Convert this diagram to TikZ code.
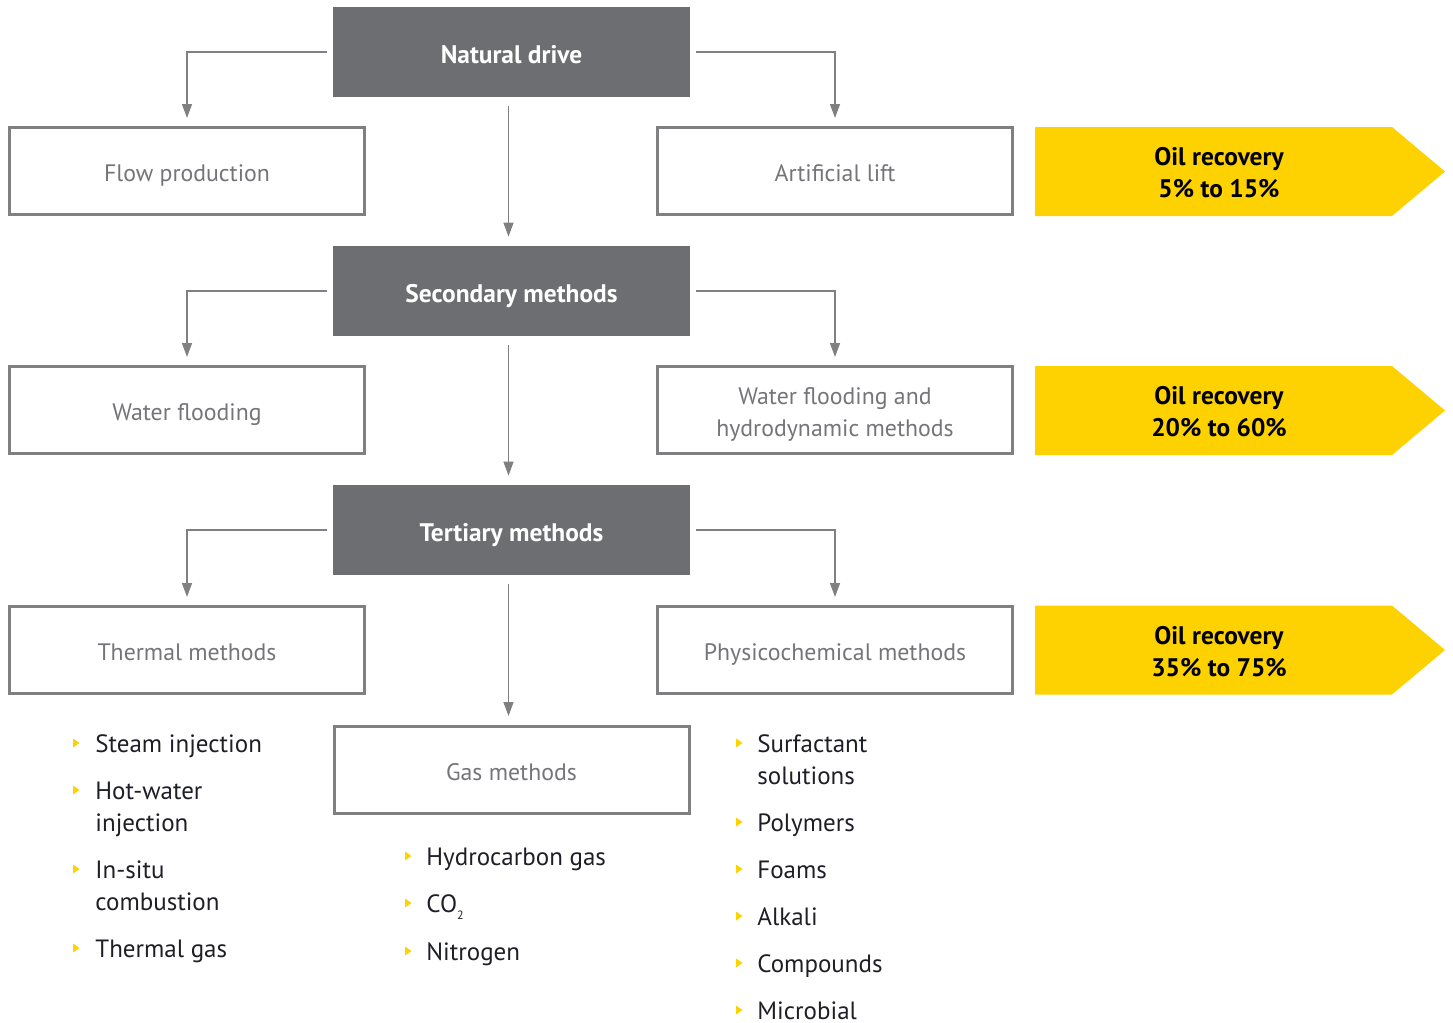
\documentclass[tikz,border=0pt]{standalone}
\usepackage{fontspec}
\setmainfont{PT Sans}
\usetikzlibrary{arrows.meta, positioning}
\definecolor{boxgray}{RGB}{109,110,113}
\definecolor{linegray}{RGB}{128,128,131}
\definecolor{boxtext}{RGB}{116,116,121}
\definecolor{itemtext}{RGB}{30,30,38}
\definecolor{recyellow}{RGB}{253,210,0}
\tikzset{
	darkbox/.style = {fill=boxgray, text=white, font=\bfseries\fontsize{12.7}{16}\selectfont,
		minimum width=178.5pt, minimum height=45pt, inner sep=0pt, text height=11pt, text depth=0pt},
	whitebox/.style = {draw=linegray, line width=1.5pt, text=boxtext, align=center,
		font=\fontsize{11.9}{16}\selectfont, minimum width=177.5pt, minimum height=43.5pt, inner sep=0pt,
		text height=10.5pt, text depth=0pt},
	twoline/.style = {text height=26pt, text depth=0pt},
	conn/.style = {draw=linegray, line width=0.7pt, -{Triangle[length=7pt, width=5pt]}},
	rectext/.style = {align=center, text=black, font=\bfseries\fontsize{12.7}{16}\selectfont, inner sep=0pt,
		twoline},
	item/.style = {anchor=base west, align=left, text=itemtext, font=\fontsize{12.5}{16}\selectfont, inner sep=0pt},
}
\newcommand{\bul}[2]{\fill[recyellow] (#1-3,#2-4.5) -- (#1+3.5,#2) -- (#1-3,#2+4.5) -- cycle;}

\begin{document}
\begin{tikzpicture}[x=0.5pt, y=-0.5pt]
	\useasboundingbox (0,0) rectangle (1453,1023);
	% main column
	\node[darkbox] (nd) at (511.5,52) {Natural drive};
	\node[darkbox] (sm) at (511.5,291) {Secondary methods};
	\node[darkbox] (tm) at (511.5,530) {Tertiary methods};
	% side boxes
	\node[whitebox] (fp) at (187,171) {Flow production};
	\node[whitebox] (al) at (835,171) {Artificial lift};
	\node[whitebox] (wf) at (187,410) {Water flooding};
	\node[whitebox, twoline] (wh) at (835,410) {Water flooding and\\hydrodynamic methods};
	\node[whitebox] (th) at (187,650) {Thermal methods};
	\node[whitebox] (pc) at (835,650) {Physicochemical methods};
	\node[whitebox] (gm) at (511.5,770) {Gas methods};
	% connectors
	\draw[conn] ([xshift=-3pt]nd.west) -| ([yshift=4pt]fp.north);
	\draw[conn] ([xshift=3pt]nd.east) -| ([yshift=4pt]al.north);
	\draw[conn] ([xshift=-1.5pt, yshift=-4.5pt]nd.south) -- ([xshift=-1.5pt, yshift=4.5pt]sm.north);
	\draw[conn] ([xshift=-3pt]sm.west) -| ([yshift=4pt]wf.north);
	\draw[conn] ([xshift=3pt]sm.east) -| ([yshift=4pt]wh.north);
	\draw[conn] ([xshift=-1.5pt, yshift=-4.5pt]sm.south) -- ([xshift=-1.5pt, yshift=4.5pt]tm.north);
	\draw[conn] ([xshift=-3pt]tm.west) -| ([yshift=4pt]th.north);
	\draw[conn] ([xshift=3pt]tm.east) -| ([yshift=4pt]pc.north);
	\draw[conn] ([xshift=-1.5pt, yshift=-4.5pt]tm.south) -- ([xshift=-1.5pt, yshift=4.5pt]gm.north);
	% recovery arrows
	\foreach \y/\t [count=\i] in {171.5/5\% to 15\%, 410.5/20\% to 60\%, 650/35\% to 75\%} {
		\fill[recyellow] (1035,\y-44.5) -- (1392,\y-44.5) -- (1445,\y) -- (1392,\y+44.5) -- (1035,\y+44.5) -- cycle;
		\node[rectext] (rec\i) at (1219,\y) {Oil recovery\\\t};
	}
	% bullet lists (first baseline / extra lines / text)
	\foreach \y/\n/\t [count=\i] in {752/0/Steam injection, 799/1/{Hot-water\\injection}, 878/1/{In-situ\\combustion}, 957/0/Thermal gas} {
		\node[item] (tl\i) at (95,\y+32*\n) {\t};
		\bul{76}{\y-9}
	}
	\foreach \y/\t [count=\i] in {865/Hydrocarbon gas, 912/CO\raisebox{-3.5pt}{\fontsize{6}{7}\selectfont 2}, 960/Nitrogen} {
		\node[item] (gl\i) at (426,\y) {\t};
		\bul{408}{\y-9}
	}
	\foreach \y/\n/\t [count=\i] in {752/1/{Surfactant\\solutions}, 831/0/Polymers, 878/0/Foams, 925/0/Alkali, 972/0/Compounds, 1019/0/Microbial} {
		\node[item] (pl\i) at (757,\y+32*\n) {\t};
		\bul{739}{\y-9}
	}
\end{tikzpicture}
\end{document}
